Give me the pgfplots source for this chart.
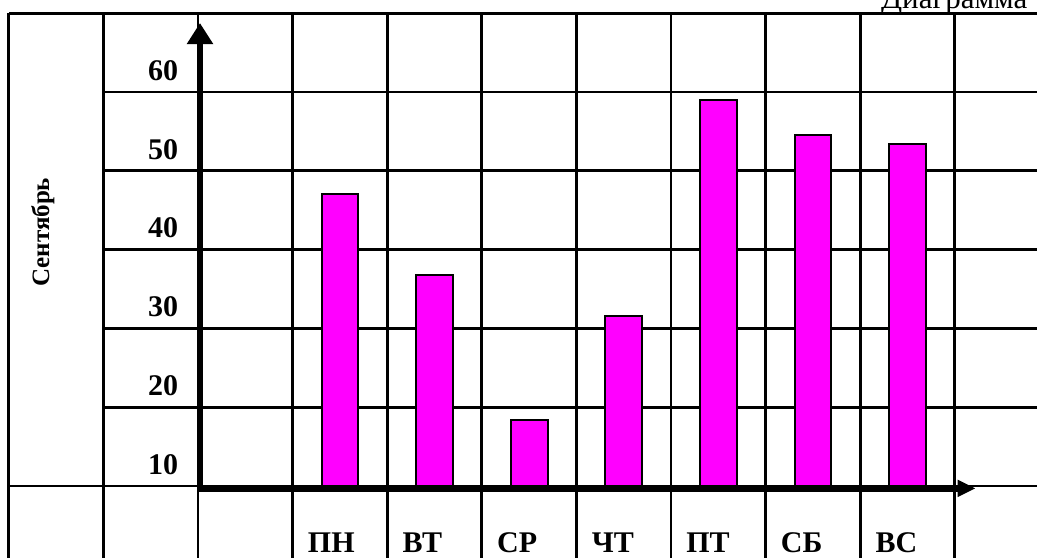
\documentclass[border=0pt]{standalone}
\usepackage{pgfplots}
\pgfplotsset{compat=1.18}
\usepackage{fontspec}
\setmainfont{Liberation Serif}
\usetikzlibrary{arrows.meta}
\definecolor{mag}{RGB}{255,0,255}
\begin{document}
\begin{tikzpicture}
\begin{axis}[
  name=ax,
  scale only axis, width=518.5pt, height=278.5pt,
  xmin=-3.594, xmax=7.368, ymin=-9.01, ymax=61.68,
  axis line style={draw=none}, tick style={draw=none}, major tick length=0pt,
  clip=false,
  /pgf/number format/assume math mode=true,
  xtick={0,1,2,3,4,5,6},
  xticklabels={ПН,ВТ,СР,ЧТ,ПТ,СБ,ВС},
  ytick={10,20,30,40,50,60},
  yticklabels={10,20,30,40,50,60},
  xticklabel style={font=\bfseries\fontsize{15}{15}\selectfont, anchor=base west, inner sep=0pt, xshift=-16.2pt, yshift=2.5pt},
  yticklabel style={font=\bfseries\fontsize{15}{15}\selectfont, anchor=center, inner sep=0pt, xshift=81.5pt, yshift=-28.6pt},
]
% table lines
\draw[line width=1.4pt] (axis cs:-3.5,60) -- (axis cs:7.6,60);
\draw[line width=1.4pt] (axis cs:-3.5,0) -- (axis cs:7.6,0);
\draw[line width=1.4pt] (axis cs:-2.5,10) -- (axis cs:7.6,10);
\draw[line width=1.4pt] (axis cs:-2.5,20) -- (axis cs:7.6,20);
\draw[line width=1.4pt] (axis cs:-2.5,30) -- (axis cs:7.6,30);
\draw[line width=1.4pt] (axis cs:-2.5,40) -- (axis cs:7.6,40);
\draw[line width=1.4pt] (axis cs:-2.5,50) -- (axis cs:7.6,50);
\draw[line width=1.4pt] (axis cs:-3.5,60) -- (axis cs:-3.5,-10);
\draw[line width=1.4pt] (axis cs:-2.5,60) -- (axis cs:-2.5,-10);
\draw[line width=1.4pt] (axis cs:-1.5,60) -- (axis cs:-1.5,-10);
\draw[line width=1.4pt] (axis cs:-0.5,60) -- (axis cs:-0.5,-10);
\draw[line width=1.4pt] (axis cs:0.5,60) -- (axis cs:0.5,-10);
\draw[line width=1.4pt] (axis cs:1.5,60) -- (axis cs:1.5,-10);
\draw[line width=1.4pt] (axis cs:2.5,60) -- (axis cs:2.5,-10);
\draw[line width=1.4pt] (axis cs:3.5,60) -- (axis cs:3.5,-10);
\draw[line width=1.4pt] (axis cs:4.5,60) -- (axis cs:4.5,-10);
\draw[line width=1.4pt] (axis cs:5.5,60) -- (axis cs:5.5,-10);
\draw[line width=1.4pt] (axis cs:6.5,60) -- (axis cs:6.5,-10);
% bars
\addplot[ybar, bar width=0.39, fill=mag, draw=black, line width=1pt]
  coordinates {(0,37.1) (1,26.8) (2,8.4) (3,21.6) (4,49.0) (5,44.5) (6,43.4)};
% axis arrows
\draw[line width=3.2pt, -{Triangle[length=10.5pt,width=12.5pt]}] (axis cs:-1.48,-0.76) -- (axis cs:-1.48,58.76);
\draw[line width=3.5pt, -{Triangle[length=9pt,width=8pt]}] (axis cs:-1.51,-0.3) -- (axis cs:6.72,-0.3);
% texts
\node[rotate=90, font=\bfseries\fontsize{12.5}{12.5}\selectfont] at (axis cs:-3.14,32.2) {Сентябрь};
\node[anchor=base east, inner sep=0pt, font=\fontsize{15.5}{15.5}\selectfont] at (axis cs:7.27,60.66) {Диаграмма};
\end{axis}
\pgfresetboundingbox
\path[use as bounding box] (ax.south west) rectangle (ax.north east);
\end{tikzpicture}
\end{document}
